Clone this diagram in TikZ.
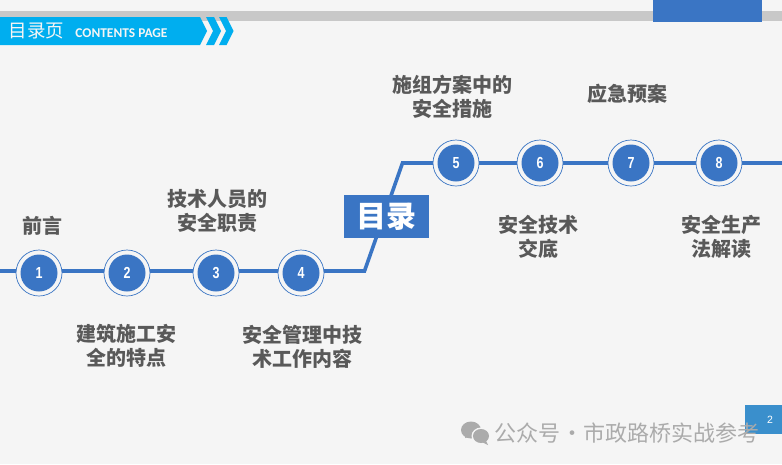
\documentclass[tikz,border=0pt]{standalone}
\usepackage{fontspec}
\setmainfont{Noto Sans CJK SC}
\newfontfamily\numfont[FakeStretch=0.78]{Liberation Sans}
\newfontfamily\pagefont{Liberation Sans}
\newfontfamily\capfont{Carlito}
\usepackage{xcolor}
\usetikzlibrary{positioning}
\definecolor{pagebg}{HTML}{F5F5F5}
\definecolor{mainblue}{HTML}{3A75C4}
\definecolor{headcyan}{HTML}{00AEEF}
\definecolor{bandgray}{HTML}{C8C8C8}
\definecolor{textgray}{HTML}{595959}
\definecolor{markgray}{HTML}{ABABAB}
\definecolor{pageblue}{HTML}{3A8FCC}

\begin{document}
\begin{tikzpicture}[
  x=1pt, y=-1pt,
  stop/.style={circle, draw=mainblue, line width=0.7pt, fill=pagebg, minimum size=46pt, inner sep=0pt, path picture={\fill[mainblue] (path picture bounding box.center) circle (18.5pt);}, text=white, font=\numfont\bfseries\fontsize{16}{16}\selectfont},
  lbl/.style={text=textgray, align=center, font=\bfseries\fontsize{20}{24}\selectfont, inner sep=0pt},
  arr/.style={draw=mainblue, line width=3.6pt, line join=miter}]
  \useasboundingbox (0,0) rectangle (782,464);
  \fill[pagebg] (0,0) rectangle (782,464);
  % header
  \fill[bandgray] (0,11) rectangle (782,21);
  \node[fill=mainblue, minimum width=109pt, minimum height=22pt, inner sep=0pt] (corner) at (707.5,11) {};
  \fill[pagebg] (0,21) rectangle (240,50);
  \fill[headcyan] (0,17) -- (200,17) -- (207,31) -- (200,45) -- (0,45) -- cycle;
  \fill[headcyan] (206,17) -- (214,17) -- (221,31) -- (214,45) -- (206,45) -- (213,31) -- cycle;
  \fill[headcyan] (219,17) -- (226.5,17) -- (233.5,31) -- (226.5,45) -- (219,45) -- (226,31) -- cycle;
  \node[text=pagebg, font=\fontsize{18.5}{18.5}\selectfont, inner sep=0pt] (headzh) at (36.5,31) {目录页};
  \node[text=pagebg, font=\capfont\bfseries\fontsize{13.4}{14}\selectfont, inner sep=0pt] (headen) at (121.5,33) {CONTENTS PAGE};
  % timeline
  \coordinate (start) at (0,271);
  \coordinate (bendlow) at (364.5,271);
  \coordinate (bendhigh) at (402.5,163);
  \coordinate (end) at (782,163);
  \draw[arr] (start) -- (bendlow) -- (bendhigh) -- (end);
  \node[stop] (s1) at (39,273) {1};
  \node[stop] (s2) at (127,273) {2};
  \node[stop] (s3) at (216,273) {3};
  \node[stop] (s4) at (301,273) {4};
  \node[stop] (s5) at (456,163) {5};
  \node[stop] (s6) at (540,163) {6};
  \node[stop] (s7) at (631,163) {7};
  \node[stop] (s8) at (719,163) {8};
  \node[fill=mainblue, text=white, minimum width=85pt, minimum height=43pt, inner sep=0pt, font=\bfseries\fontsize{30}{30}\selectfont] (title) at (386.5,216.5) {\raisebox{-1pt}{目录}};
  % labels
  \node[lbl] (l1) at (42,226) {前言};
  \node[lbl] (l2) at (126,346) {建筑施工安\\全的特点};
  \node[lbl] (l3) at (217,211) {技术人员的\\安全职责};
  \node[lbl] (l4) at (302,347) {安全管理中技\\术工作内容};
  \node[lbl] (l5) at (452,97) {施组方案中的\\安全措施};
  \node[lbl] (l6) at (538,237) {安全技术\\交底};
  \node[lbl] (l7) at (627,94) {应急预案};
  \node[lbl] (l8) at (721,237) {安全生产\\法解读};
  % page number and mark
  \node[fill=pageblue, text=white, minimum width=37pt, minimum height=29pt, inner sep=0pt, font=\pagefont\fontsize{10.5}{10.5}\selectfont] (page) at (763.5,419.5) {\hspace{13pt}2};
  \fill[markgray] (471,430) ellipse (10pt and 8.5pt);
  \fill[markgray] (465,438) -- (467,432) -- (472,436) -- cycle;
  \fill[pagebg] (481,436) ellipse (9.5pt and 8.5pt);
  \fill[markgray] (481,436) ellipse (8pt and 7pt);
  \fill[markgray] (486,441) -- (488,445) -- (482,442) -- cycle;
  \node[text=markgray, font=\fontsize{22}{22}\selectfont, inner sep=0pt, anchor=west] (mark) at (494.5,433) {公众号\hspace{0.5pt}·\hspace{0.5pt}市政路桥实战参考};
\end{tikzpicture}
\end{document}
